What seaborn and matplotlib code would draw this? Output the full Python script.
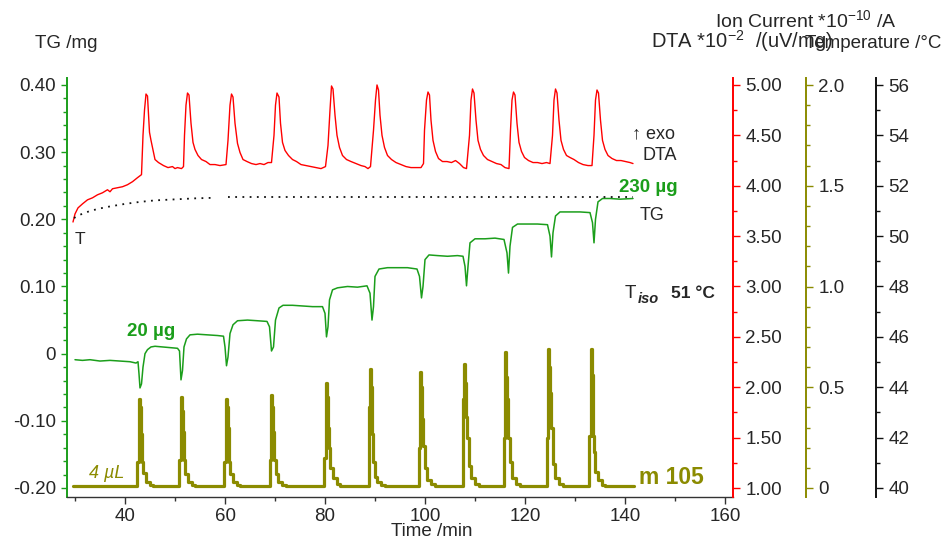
import matplotlib
matplotlib.use("Agg")
import matplotlib.pyplot as plt
import seaborn as sns
from matplotlib.ticker import MultipleLocator, FuncFormatter

# ---------------------------------------------------------------- data
# TG (mass change, mg) versus time (min)
tg_time = [30.0, 31.5, 33.0, 35.0, 37.0, 39.0, 41.0, 42.2, 42.6,
           42.8, 43.0, 43.3, 43.6, 44.0, 44.5, 45.2, 46.0, 47.5, 49.0, 50.5,
           50.9, 51.2, 51.5, 51.8, 52.3, 53.0, 54.5, 56.5, 58.5, 59.7,
           60.0, 60.3, 60.6, 61.0, 61.6, 62.5, 64.5, 66.5, 68.4,
           68.9, 69.3, 69.7, 70.1, 70.8, 71.6, 73.5, 75.5, 77.5, 79.5,
           80.0, 80.3, 80.6, 80.9, 81.5, 82.5, 84.5, 86.5, 88.4,
           89.0, 89.4, 89.7, 90.0, 90.8, 92.5, 94.5, 96.5, 98.4,
           98.9, 99.3, 99.6, 100.0, 100.8, 102.5, 104.5, 106.5, 107.6,
           108.0, 108.3, 108.6, 109.0, 110.0, 112.0, 114.0, 115.8,
           116.4, 116.7, 117.0, 117.5, 118.5, 120.5, 122.5, 124.5,
           125.0, 125.3, 125.6, 126.1, 127.0, 129.0, 131.0, 133.0,
           133.5, 133.8, 134.1, 134.6, 135.5, 137.0, 139.0, 141.6]
tg_value = [-0.009, -0.010, -0.009, -0.011, -0.010, -0.011, -0.012, -0.014, -0.012,
            -0.030, -0.051, -0.045, -0.020, 0.000, 0.006, 0.010, 0.011, 0.010, 0.009, 0.008,
            0.004, -0.039, -0.025, 0.010, 0.022, 0.028, 0.029, 0.028, 0.027, 0.026,
            0.010, -0.018, -0.005, 0.030, 0.043, 0.049, 0.050, 0.049, 0.048,
            0.040, 0.004, 0.010, 0.050, 0.068, 0.072, 0.072, 0.071, 0.070, 0.070,
            0.060, 0.025, 0.040, 0.080, 0.095, 0.098, 0.100, 0.099, 0.101,
            0.090, 0.050, 0.070, 0.115, 0.126, 0.128, 0.128, 0.128, 0.126,
            0.115, 0.083, 0.100, 0.140, 0.147, 0.146, 0.145, 0.146, 0.145,
            0.130, 0.101, 0.130, 0.165, 0.171, 0.171, 0.172, 0.170,
            0.150, 0.120, 0.160, 0.188, 0.193, 0.193, 0.193, 0.192,
            0.175, 0.144, 0.180, 0.205, 0.211, 0.211, 0.211, 0.210,
            0.195, 0.165, 0.200, 0.226, 0.231, 0.231, 0.230, 0.231]

# DTA signal (*10^-2 uV/mg) versus time (min)
dta_time = [29.6, 30.0, 30.6, 31.5, 32.5, 33.5, 34.5, 35.5, 36.5, 37.0, 37.5, 38.5,
            39.5, 40.5, 41.5, 42.5, 43.3,
            43.6, 43.9, 44.2, 44.5, 44.9, 45.2, 45.7, 46.0, 46.7, 47.7, 48.6, 49.5,
            50.0, 50.5, 51.3, 51.7,
            51.9, 52.2, 52.5, 52.8, 53.2, 53.6, 54.0, 54.6, 55.3, 56.2, 57.0, 58.0,
            59.0, 60.2,
            60.6, 61.0, 61.3, 61.6, 62.0, 62.5, 63.0, 63.6, 64.4, 65.3, 66.2, 67.0,
            67.8, 68.6, 69.3,
            69.8, 70.1, 70.4, 70.8, 71.1, 71.5, 72.0, 72.7, 73.5, 74.3, 75.2, 76.2,
            77.2, 78.2, 79.2, 80.1,
            80.6, 81.0, 81.3, 81.6, 82.0, 82.4, 82.9, 83.5, 84.3, 85.2, 86.2, 87.2,
            88.0, 88.6, 89.1,
            89.7, 90.1, 90.4, 90.7, 91.0, 91.4, 91.9, 92.5, 93.3, 94.2, 95.2, 96.2,
            97.2, 98.2, 99.2, 99.7,
            99.9, 100.3, 100.6, 100.9, 101.2, 101.6, 102.1, 102.7, 103.5, 104.4,
            105.3, 106.1, 106.9, 107.7, 108.3,
            108.9, 109.2, 109.5, 109.8, 110.2, 110.6, 111.1, 111.7, 112.5, 113.4,
            114.3, 115.2, 116.0, 116.8,
            117.1, 117.4, 117.7, 118.0, 118.4, 118.8, 119.3, 119.9, 120.7, 121.6,
            122.5, 123.4, 124.3, 125.0,
            125.5, 125.8, 126.1, 126.4, 126.8, 127.2, 127.7, 128.3, 129.0, 129.8,
            130.7, 131.6, 132.6, 133.4,
            133.8, 134.1, 134.4, 134.7, 135.1, 135.5, 136.0, 136.6, 137.4, 138.3,
            139.2, 140.1, 141.0, 141.6]
dta_value = [3.64, 3.72, 3.78, 3.82, 3.86, 3.88, 3.91, 3.93, 3.96, 3.94, 3.97, 3.98,
             3.99, 4.01, 4.04, 4.08, 4.11,
             4.50, 4.75, 4.91, 4.89, 4.53, 4.45, 4.33, 4.26, 4.23, 4.20, 4.18, 4.19,
             4.17, 4.18, 4.17, 4.19,
             4.50, 4.80, 4.92, 4.90, 4.62, 4.43, 4.36, 4.30, 4.26, 4.24, 4.21, 4.21,
             4.20, 4.21,
             4.45, 4.80, 4.91, 4.88, 4.62, 4.42, 4.33, 4.26, 4.24, 4.22, 4.21, 4.22,
             4.21, 4.23, 4.23,
             4.50, 4.80, 4.92, 4.88, 4.62, 4.43, 4.35, 4.30, 4.26, 4.24, 4.21, 4.20,
             4.19, 4.18, 4.17, 4.19,
             4.40, 4.75, 4.99, 4.96, 4.70, 4.50, 4.38, 4.30, 4.26, 4.24, 4.22, 4.20,
             4.19, 4.17, 4.19,
             4.55, 4.85, 5.00, 4.95, 4.70, 4.50, 4.38, 4.30, 4.26, 4.23, 4.21, 4.19,
             4.18, 4.18, 4.18, 4.22,
             4.55, 4.85, 4.93, 4.90, 4.65, 4.45, 4.34, 4.27, 4.24, 4.24,
             4.23, 4.25, 4.22, 4.18, 4.17,
             4.50, 4.85, 4.96, 4.92, 4.65, 4.45, 4.36, 4.30, 4.26, 4.24,
             4.22, 4.21, 4.18, 4.17,
             4.55, 4.85, 4.93, 4.90, 4.62, 4.43, 4.34, 4.28, 4.25, 4.23,
             4.23, 4.22, 4.23, 4.22,
             4.50, 4.85, 4.96, 4.92, 4.65, 4.45, 4.36, 4.30, 4.28, 4.26,
             4.23, 4.21, 4.20, 4.20,
             4.50, 4.85, 4.95, 4.92, 4.65, 4.45, 4.36, 4.30, 4.27, 4.25,
             4.25, 4.24, 4.23, 4.22]

# Ion current, m/z 105 (*10^-10 A) versus time (min), stepwise record
ion_time = [29.6,
            42.4, 42.75, 42.95, 43.1, 43.3, 43.6, 44.1, 44.9, 45.6,
            50.8, 51.15, 51.35, 51.5, 51.7, 52.0, 52.5, 53.3, 54.0,
            59.8, 60.15, 60.35, 60.5, 60.7, 61.0, 61.5, 62.3, 63.0,
            68.9, 69.25, 69.45, 69.6, 69.8, 70.1, 70.6, 71.4, 72.1,
            79.8, 80.15, 80.35, 80.5, 80.7, 81.0, 81.5, 82.3, 83.0,
            88.7, 89.05, 89.25, 89.4, 89.6, 89.9, 90.4, 91.2, 91.9,
            98.7, 99.05, 99.25, 99.4, 99.6, 99.9, 100.4, 101.2, 101.9,
            107.5, 107.85, 108.05, 108.2, 108.4, 108.7, 109.2, 110.0, 110.7,
            115.7, 116.05, 116.25, 116.4, 116.6, 116.9, 117.4, 118.2, 118.9,
            124.3, 124.65, 124.85, 125.0, 125.2, 125.5, 126.0, 126.8, 127.5,
            132.8, 133.15, 133.35, 133.5, 133.7, 134.0, 134.5, 135.3, 136.0,
            141.8]
ion_value = [0.01,
             0.13, 0.44, 0.40, 0.27, 0.13, 0.075, 0.03, 0.015, 0.01,
             0.14, 0.45, 0.38, 0.28, 0.14, 0.07, 0.03, 0.015, 0.01,
             0.13, 0.44, 0.40, 0.30, 0.13, 0.07, 0.03, 0.015, 0.01,
             0.14, 0.46, 0.40, 0.28, 0.14, 0.07, 0.03, 0.015, 0.01,
             0.15, 0.52, 0.45, 0.30, 0.20, 0.10, 0.05, 0.02, 0.01,
             0.40, 0.59, 0.50, 0.27, 0.13, 0.055, 0.03, 0.015, 0.01,
             0.20, 0.575, 0.50, 0.34, 0.21, 0.10, 0.04, 0.02, 0.01,
             0.44, 0.615, 0.52, 0.35, 0.25, 0.11, 0.05, 0.02, 0.01,
             0.25, 0.675, 0.55, 0.44, 0.25, 0.13, 0.05, 0.02, 0.01,
             0.25, 0.69, 0.60, 0.47, 0.30, 0.12, 0.05, 0.02, 0.01,
             0.26, 0.69, 0.56, 0.26, 0.18, 0.08, 0.04, 0.015, 0.01,
             0.01]

# Sample temperature (deg C); the record has a short dropout near 58 min
temp_time_a = [29.8, 31.0, 33.0, 35.0, 37.0, 40.0, 43.0, 46.0, 50.0, 54.0, 57.4]
temp_value_a = [50.72, 50.85, 51.00, 51.10, 51.18, 51.28, 51.36, 51.42, 51.46, 51.50, 51.52]
temp_time_b = [60.6, 70.0, 80.0, 90.0, 100.0, 110.0, 120.0, 130.0, 141.6]
temp_value_b = [51.56, 51.56, 51.56, 51.56, 51.56, 51.56, 51.56, 51.56, 51.56]

# Axis ticks
time_ticks = [40, 60, 80, 100, 120, 140, 160]
tg_ticks = [-0.20, -0.10, 0.0, 0.10, 0.20, 0.30, 0.40]
dta_ticks = [1.00, 1.50, 2.00, 2.50, 3.00, 3.50, 4.00, 4.50, 5.00]
ion_ticks = [0.0, 0.5, 1.0, 1.5, 2.0]
temp_ticks = [40, 42, 44, 46, 48, 50, 52, 54, 56]

# ---------------------------------------------------------------- style
sns.set_style("white")
plt.rcParams["font.family"] = ["Liberation Sans", "DejaVu Sans"]
plt.rcParams["axes.unicode_minus"] = False
plt.rcParams["mathtext.fontset"] = "custom"
plt.rcParams["mathtext.rm"] = "Liberation Sans"
plt.rcParams["mathtext.it"] = "Liberation Sans:italic"
plt.rcParams["mathtext.bf"] = "Liberation Sans:bold"

GREEN = "#1b9e1b"
RED = "#ff0000"
OLIVE = "#8b8b00"
BLACK = "#111111"
TEXT = "#262626"
FS = 13.5

W, H = 948, 542
fig = plt.figure(figsize=(W / 100, H / 100), dpi=100)


def fx(x):
    return x / W


def fy(y):
    return 1 - y / H


ax = fig.add_axes([fx(67), fy(497), (733 - 67) / W, (497 - 78) / H])
ax_dta = ax.twinx()
ax_ion = ax.twinx()
ax_temp = ax.twinx()
for a in (ax, ax_dta, ax_ion, ax_temp):
    a.patch.set_visible(False)
    for s in a.spines.values():
        s.set_visible(False)

# ---------------------------------------------------------------- curves
sns.lineplot(x=tg_time, y=tg_value, ax=ax, color=GREEN, linewidth=1.1,
             estimator=None, sort=False)
sns.lineplot(x=dta_time, y=dta_value, ax=ax_dta, color=RED, linewidth=1.0,
             estimator=None, sort=False)
sns.lineplot(x=ion_time, y=ion_value, ax=ax_ion, color=OLIVE, linewidth=2.3,
             estimator=None, sort=False, drawstyle="steps-post")
for tt, tv in ((temp_time_a, temp_value_a), (temp_time_b, temp_value_b)):
    sns.lineplot(x=tt, y=tv, ax=ax_temp, color=BLACK, linewidth=1.3,
                 linestyle=(0, (1, 3)), estimator=None, sort=False)

# ---------------------------------------------------------------- axes
ax.set_xlim(28.4, 161.6)
ax.set_ylim(-0.2134, 0.4104)
ax_dta.set_ylim(0.911, 5.069)
ax_ion.set_ylim(-0.0447, 2.035)
ax_temp.set_ylim(39.64, 56.28)

for a in (ax, ax_dta, ax_ion, ax_temp):
    a.set_xlabel("")
    a.set_ylabel("")

ax.spines["left"].set_visible(True)
ax.spines["left"].set_color(GREEN)
ax.spines["left"].set_linewidth(1.4)
ax.spines["bottom"].set_visible(True)
ax.spines["bottom"].set_color("#333333")
ax.spines["bottom"].set_linewidth(1.0)

ax.set_xticks(time_ticks)
ax.xaxis.set_minor_locator(MultipleLocator(10))
ax.set_yticks(tg_ticks)
ax.yaxis.set_minor_locator(MultipleLocator(0.02))
ax.yaxis.set_major_formatter(FuncFormatter(lambda v, p: "0" if abs(v) < 1e-9 else f"{v:.2f}"))
ax.tick_params(axis="x", which="both", bottom=True, direction="out", color="#333333",
               labelcolor=TEXT, labelsize=FS, pad=3)
ax.tick_params(axis="x", which="major", length=5, width=1.0)
ax.tick_params(axis="x", which="minor", length=3, width=1.0)
ax.tick_params(axis="y", which="both", left=True, right=False, direction="out",
               color=GREEN, labelcolor=TEXT, labelsize=FS, pad=4)
ax.tick_params(axis="y", which="major", length=4, width=1.0)
ax.tick_params(axis="y", which="minor", length=3, width=1.0)

right_axes = [
    (ax_dta, 1.0, RED, dta_ticks, 0.25, lambda v, p: f"{v:.2f}"),
    (ax_ion, 1.1096, OLIVE, ion_ticks, 0.1, lambda v, p: "0" if abs(v) < 1e-9 else f"{v:.1f}"),
    (ax_temp, 1.2147, BLACK, temp_ticks, 1, lambda v, p: f"{v:.0f}"),
]
for a, pos, col, ticks, minor, fmt in right_axes:
    sp = a.spines["right"]
    sp.set_visible(True)
    sp.set_position(("axes", pos))
    sp.set_color(col)
    sp.set_linewidth(1.4)
    a.set_yticks(ticks)
    a.yaxis.set_minor_locator(MultipleLocator(minor))
    a.yaxis.set_major_formatter(FuncFormatter(fmt))
    a.tick_params(axis="y", which="both", right=True, left=False, labelright=True,
                  labelleft=False, direction="out", color=col, labelcolor=TEXT,
                  labelsize=FS, pad=4)
    a.tick_params(axis="y", which="major", length=5, width=1.0)
    a.tick_params(axis="y", which="minor", length=3, width=1.0)
    a.tick_params(axis="x", which="both", bottom=False, top=False,
                  labelbottom=False, labeltop=False)

# ---------------------------------------------------------------- labels
fig.text(fx(35), fy(48), "TG /mg", fontsize=FS, color=TEXT, va="baseline", ha="left")
fig.text(fx(715), fy(27), r"Ion Current *10$^{-10}$ /A", fontsize=14, color=TEXT,
         va="baseline", ha="left")
fig.text(fx(651), fy(48), r"DTA *10$^{-2}$  /(uV/mg)", fontsize=14.5, color=TEXT,
         va="baseline", ha="left")
fig.text(fx(805), fy(48), "Temperature /°C", fontsize=FS, color=TEXT,
         va="baseline", ha="left")
fig.text(fx(432), fy(532), "Time /min", fontsize=FS, color=TEXT, va="center", ha="center")

fig.text(fx(632), fy(134), "↑ exo", fontsize=13, color=TEXT, va="center", ha="left")
fig.text(fx(642), fy(156), "DTA", fontsize=13, color=TEXT, va="center", ha="left")
fig.text(fx(640), fy(216), "TG", fontsize=13, color=TEXT, va="center", ha="left")
fig.text(fx(619), fy(188), "230 µg", fontsize=13.5, color=GREEN, fontweight="bold",
         va="center", ha="left")
fig.text(fx(127), fy(332), "20 µg", fontsize=13.5, color=GREEN, fontweight="bold",
         va="center", ha="left")
fig.text(fx(89), fy(473), "4 µL", fontsize=13, color=OLIVE, style="italic",
         va="center", ha="left")
fig.text(fx(639), fy(477), "m 105", fontsize=16.5, color=OLIVE, fontweight="bold",
         va="center", ha="left")
fig.text(fx(75), fy(240), "T", fontsize=12.5, color=TEXT, va="center", ha="left")
fig.text(fx(625), fy(294), "T", fontsize=13.5, color=TEXT, va="center", ha="left")
fig.text(fx(638), fy(299), "iso", fontsize=10.5, color=TEXT, style="italic",
         fontweight="bold", va="center", ha="left")
fig.text(fx(671), fy(294), "51 °C", fontsize=12.5, color=TEXT, fontweight="bold",
         va="center", ha="left")

fig.savefig("out.png", dpi=100)
